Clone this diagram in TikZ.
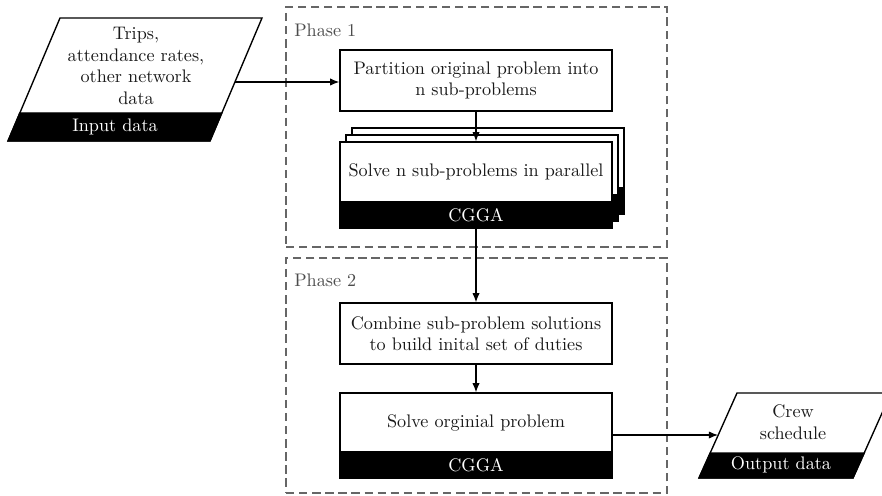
\documentclass[tikz,border=0pt]{standalone}
\usetikzlibrary{fit,arrows.meta}
\begin{document}
\begin{tikzpicture}[x=0.55pt,y=-0.55pt,
  txtfont/.style={font=\fontsize{10}{11.8}\selectfont},
  box/.style={draw, line width=0.75pt, fill=white, inner sep=0pt, align=center, txtfont, text=black!90},
  band/.style={draw, line width=0.75pt, fill=black, text=white, inner sep=0pt, txtfont},
  phase/.style={draw=black!60, dash pattern=on 4.6pt off 2.6pt, line width=0.75pt, inner sep=0pt},
  lbl/.style={text=black!70, txtfont, anchor=west, inner sep=0pt},
  ptxt/.style={align=center, txtfont, inner sep=0pt, text=black!90},
  pband/.style={align=center, txtfont, inner sep=0pt, text=white},
  shp/.style={draw, line width=0.75pt, line join=miter},
  arr/.style={-{Latex[length=5pt,width=4pt]}, line width=0.65pt},
  ]
\useasboundingbox (0,0) rectangle (882,496);
\clip (0,0) rectangle (882,496);

% phase frames
\node[phase, fit={(286,7)(667,247)}] (ph1) {};
\node[phase, fit={(286,258)(667,493)}] (ph2) {};
\node[lbl] (ph1lbl) at (294,30) {Phase 1};
\node[lbl] (ph2lbl) at (294,280) {Phase 2};

% input data parallelogram
\path[shp, fill=white] (60,18) -- (262,18) -- (210,141) -- (8,141) -- cycle;
\path[shp, fill=black] (19.8,113) -- (221.8,113) -- (210,141) -- (8,141) -- cycle;
\node[ptxt] (intext) at (136,66) {Trips,\\attendance rates,\\other network\\data};
\node[pband] (inband) at (115,127) {Input data};
\coordinate (inout) at (235,82);

% partition box
\node[box, fit={(340,50)(612,111)}] (part) {};
\node[ptxt] (parttext) at (part.center) {Partition original problem into\\n sub-problems};

% stacked solve boxes
\node[box, fit={(352,128)(624,188)}] (c3) {};
\node[band, fit={(352,188)(624,214)}] (c3b) {};
\node[box, fit={(346,135)(618,195)}] (c2) {};
\node[band, fit={(346,195)(618,221)}] (c2b) {};
\node[box, fit={(340,142)(612,202)}] (solven) {};
\node[band, fit={(340,202)(612,228)}] (solvenb) {};
\node[ptxt] (solventext) at (solven.center) {Solve n sub-problems in parallel};
\node[pband] (solvenbt) at (solvenb.center) {CGGA};

% combine
\node[box, fit={(340,303)(612,364)}] (comb) {};
\node[ptxt] (combtext) at (comb.center) {Combine sub-problem solutions\\to build inital set of duties};

% solve original
\node[box, fit={(340,393)(612,452)}] (sorig) {};
\node[band, fit={(340,452)(612,478)}] (sorigb) {};
\node[ptxt] (sorigtext) at (sorig.center) {Solve orginial problem};
\node[pband] (sorigbt) at (sorigb.center) {CGGA};

% output data parallelogram
\path[shp, fill=white] (737,393) -- (891,393) -- (853,478) -- (699,478) -- cycle;
\path[shp, fill=black] (710.2,453) -- (864.2,453) -- (853,478) -- (699,478) -- cycle;
\node[ptxt] (outtext) at (793,422) {Crew\\schedule};
\node[pband] (outband) at (781,465) {Output data};
\coordinate (outin) at (718,435);

% connectors
\draw[arr] (inout) -- (part.west |- inout);
\draw[arr] (part.south) -- (solven.north);
\draw[arr] (solvenb.south) -- (comb.north);
\draw[arr] (comb.south) -- (sorig.north);
\draw[arr] (sorig.east |- outin) -- (outin);
\end{tikzpicture}
\end{document}
